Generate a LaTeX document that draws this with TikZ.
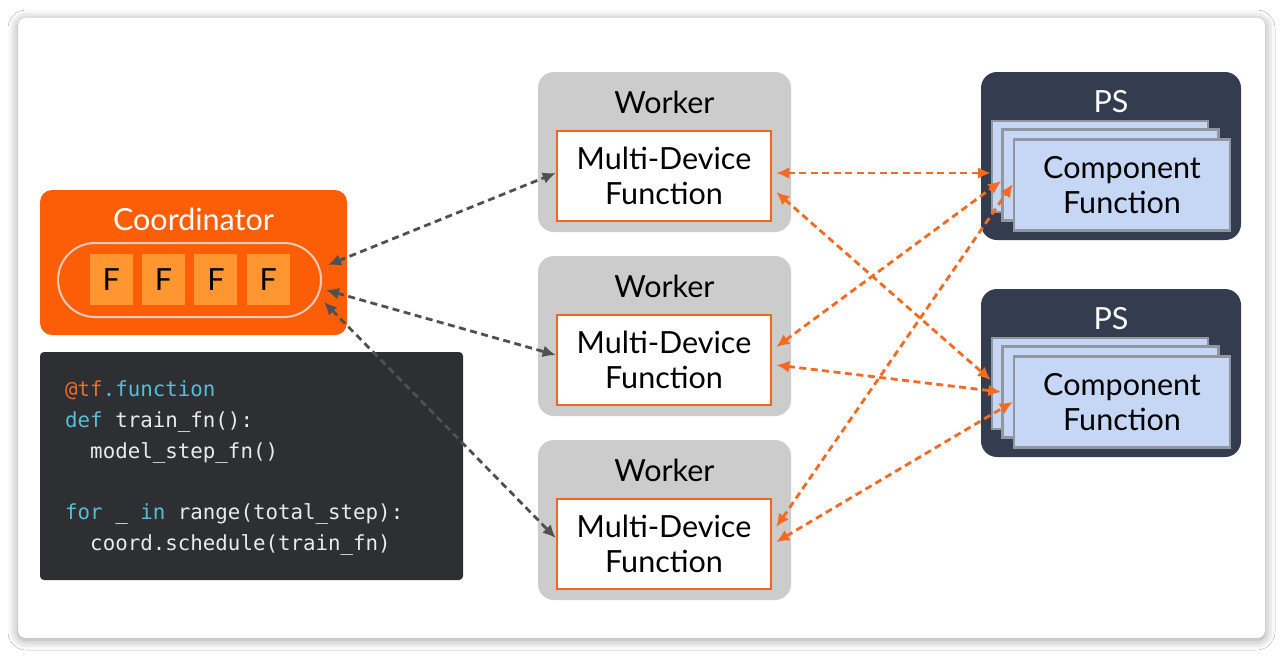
\documentclass[tikz,border=0pt]{standalone}
\usepackage{fontspec}
\setmainfont{Lato}
\setmonofont{DejaVu Sans Mono}
\usetikzlibrary{arrows.meta, shadows.blur}
\definecolor{coordorange}{RGB}{252,94,8}
\definecolor{fboxorange}{RGB}{255,150,48}
\definecolor{pillborder}{RGB}{232,204,188}
\definecolor{workergray}{RGB}{204,204,204}
\definecolor{mdforange}{RGB}{242,101,30}
\definecolor{psnavy}{RGB}{52,61,80}
\definecolor{cardblue}{RGB}{198,214,245}
\definecolor{cardborder}{RGB}{145,150,160}
\definecolor{codebg}{RGB}{45,47,51}
\definecolor{codecyan}{RGB}{86,190,214}
\definecolor{codetext}{RGB}{232,234,237}
\definecolor{codeorange}{RGB}{232,110,36}
\definecolor{ctrlgray}{RGB}{80,80,80}
\definecolor{psorange}{RGB}{242,107,33}
\tikzset{
  big text/.style={font=\fontsize{30.5}{35}\selectfont},
  coord box/.style={fill=coordorange, rounded corners=12pt, minimum width=307pt, minimum height=145pt},
  pill box/.style={draw=pillborder, line width=2pt, rounded corners=37pt, minimum width=263pt, minimum height=74pt},
  f box/.style={fill=fboxorange, minimum width=43pt, minimum height=51pt, inner sep=0pt, big text},
  code line/.style={anchor=base west, inner sep=0pt, text=codetext, font=\ttfamily\fontsize{20.8}{31}\selectfont},
  worker box/.style={fill=workergray, rounded corners=16pt, minimum width=253pt, minimum height=160pt},
  mdf box/.style={draw=mdforange, fill=white, line width=2.5pt, minimum width=214pt, minimum height=90pt, align=center, big text},
  ps box/.style={fill=psnavy, rounded corners=16pt, minimum width=260pt, minimum height=168pt},
  card box/.style={draw=cardborder, fill=cardblue, line width=2.5pt, minimum width=216pt, minimum height=91pt},
  ctrl arrow/.style={>={Latex[length=13pt, width=12pt]}, <->, line width=2.8pt, ctrlgray, dash pattern=on 7pt off 4.5pt},
  ps arrow/.style={>={Latex[length=13pt, width=12pt]}, <->, line width=2.8pt, psorange, dash pattern=on 7pt off 4.5pt},
}

\begin{document}
\begin{tikzpicture}[x=1pt, y=-1pt]
  \useasboundingbox (0,0) rectangle (1283,657);
  \fill[white] (0,0) rectangle (1283,657);
  \fill[white, rounded corners=8pt, blur shadow={shadow xshift=0pt, shadow yshift=-2pt, shadow blur radius=10pt, shadow opacity=40}] (18,18) rectangle (1265,638);

  % coordinator
  \node[coord box] (coord) at (193.5,262.5) {};
  \node[big text, text=white] (coordlabel) at (193.5,219) {Coordinator};
  \node[pill box] (pill) at (189.5,280) {};
  \foreach \i in {1,...,4}
    \node[f box] (f\i) at ({59+52.3*\i},279.5) {F};

  % code
  \node[fill=codebg, rounded corners=4pt, minimum width=423pt, minimum height=228pt] (code) at (251.5,466) {};
  \node[code line] (code1) at (65,396.5) {\textcolor{codeorange}{@tf}\textcolor{codecyan}{.function}};
  \node[code line] (code2) at (65,427.5) {\textcolor{codecyan}{def} train\_fn():};
  \node[code line] (code3) at (65,458.5) {\ \ model\_step\_fn()};
  \node[code line] (code4) at (65,519.5) {\textcolor{codecyan}{for} \_ \textcolor{codecyan}{in} range(total\_step):};
  \node[code line] (code5) at (65,550.5) {\ \ coord.schedule(train\_fn)};

  % workers
  \foreach \i/\y in {1/152, 2/336, 3/520} {
    \node[worker box] (worker\i) at (664.5,\y) {};
    \node[big text] (workerlabel\i) at (664.5,\y-50) {Worker};
    \node[mdf box] (mdf\i) at (664,\y+24) {Multi-Device\\Function};
  }

  % parameter servers
  \foreach \i/\y in {1/156, 2/373} {
    \node[ps box] (ps\i) at (1111,\y) {};
    \node[big text, text=white] (pslabel\i) at (1111,\y-54) {PS};
    \node[card box] (ps\i a) at (1100,\y+10.5) {};
    \node[card box] (ps\i b) at (1110.5,\y+19) {};
    \node[card box, align=center, big text] (ps\i c) at (1122,\y+29) {Component\\Function};
  }

  \draw[ctrl arrow] ([xshift=6pt, yshift=15pt]pill.east) -- ([yshift=3pt]mdf1.west);
  \draw[ctrl arrow] ([xshift=4pt, yshift=-10pt]pill.east) -- ([yshift=5pt]mdf2.west);
  \draw[ctrl arrow] ([xshift=2pt, yshift=-22pt]pill.east) -- ([yshift=6pt]mdf3.west);

  \draw[ps arrow] ([xshift=4pt, yshift=3pt]mdf1.east) -- ([yshift=-6.5pt]ps1a.west);
  \draw[ps arrow] ([xshift=4pt, yshift=-16pt]mdf1.east) -- ([yshift=3.5pt]ps2a.west);
  \draw[ps arrow] ([xshift=4pt, yshift=13pt]mdf2.east) -- ([yshift=-6pt]ps1b.west);
  \draw[ps arrow] ([xshift=4pt, yshift=-5pt]mdf2.east) -- (ps2b.west);
  \draw[ps arrow] ([xshift=4pt, yshift=17pt]mdf3.east) -- ([yshift=1pt]ps1c.west);
  \draw[ps arrow] ([xshift=4pt, yshift=2pt]mdf3.east) -- (ps2c.west);
\end{tikzpicture}
\end{document}
